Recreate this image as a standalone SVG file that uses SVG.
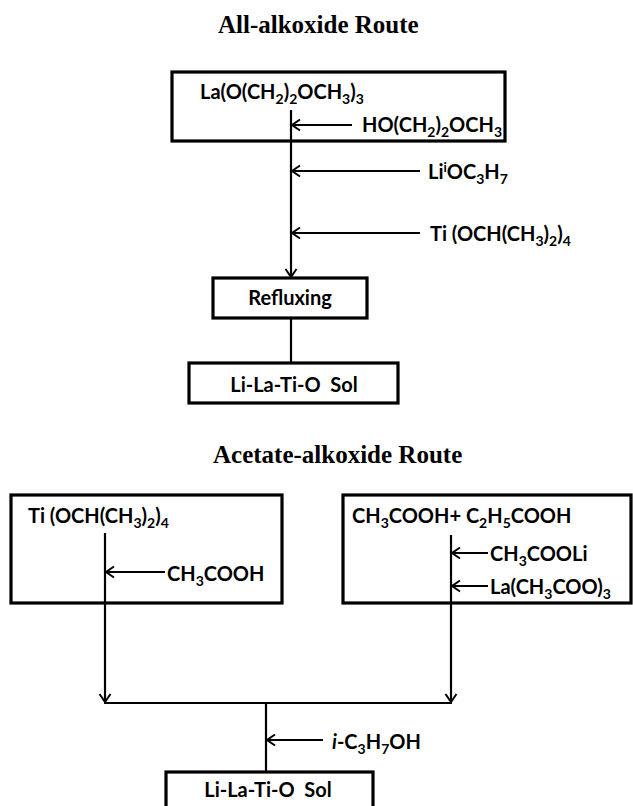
<svg xmlns="http://www.w3.org/2000/svg" width="633" height="806" viewBox="0 0 633 806">
<defs>
<style>
.title{font-family:"Liberation Serif","Times New Roman",serif;font-weight:bold;font-size:25px;fill:#000}
.lbl{font-family:Lato,"Open Sans","Liberation Sans",sans-serif;font-weight:bold;font-size:20px;fill:#000}
.box{fill:#fff;stroke:#000;stroke-width:3.2}
.ln{stroke:#000;stroke-width:2.2;fill:none}
.arr{stroke:#000;stroke-width:1.8;fill:none;marker-end:url(#ah)}
.varr{stroke:#000;stroke-width:2.2;fill:none;marker-end:url(#ah)}
</style>
<marker id="ah" markerWidth="12" markerHeight="14" refX="10" refY="7" orient="auto" markerUnits="userSpaceOnUse">
<path d="M2,1.5 L10,7 L2,12.5" fill="none" stroke="#000" stroke-width="2"/>
</marker>
</defs>
<rect width="633" height="806" fill="#fff"/>

<text class="title" x="218" y="33">All-alkoxide Route</text>
<text class="title" x="213" y="463">Acetate-alkoxide Route</text>

<g id="n_la_box">
<rect class="box" x="172" y="72" width="333" height="69"/>
<text class="lbl" x="200" y="99">La(O(CH<tspan dy="5" font-size="14">2</tspan><tspan dy="-5">)</tspan><tspan dy="5" font-size="14">2</tspan><tspan dy="-5">OCH</tspan><tspan dy="5" font-size="14">3</tspan><tspan dy="-5">)</tspan><tspan dy="5" font-size="14">3</tspan></text>
</g>

<g id="n_refluxing">
<rect class="box" x="213" y="278" width="154" height="40"/>
<text class="lbl" x="290" y="305" text-anchor="middle">Refluxing</text>
</g>

<g id="n_sol1">
<rect class="box" x="189" y="363" width="209" height="40"/>
<text class="lbl" x="294" y="392" text-anchor="middle" xml:space="preserve">Li-La-Ti-O  Sol</text>
</g>

<g id="n_ti_box">
<rect class="box" x="11" y="495" width="271" height="108"/>
<text class="lbl" x="28" y="523">Ti (OCH(CH<tspan dy="5" font-size="14">3</tspan><tspan dy="-5">)</tspan><tspan dy="5" font-size="14">2</tspan><tspan dy="-5">)</tspan><tspan dy="5" font-size="14">4</tspan></text>
</g>

<g id="n_acid_box">
<rect class="box" x="343" y="495" width="288" height="108"/>
<text class="lbl" x="352" y="523">CH<tspan dy="5" font-size="14">3</tspan><tspan dy="-5">COOH+ C</tspan><tspan dy="5" font-size="14">2</tspan><tspan dy="-5">H</tspan><tspan dy="5" font-size="14">5</tspan><tspan dy="-5">COOH</tspan></text>
</g>

<g id="n_sol2">
<rect class="box" x="166" y="772" width="207" height="40"/>
<text class="lbl" x="268" y="797" text-anchor="middle" xml:space="preserve">Li-La-Ti-O  Sol</text>
</g>

<g id="connectors">
<line class="varr" x1="291" y1="110" x2="291" y2="277"/>
<line class="ln" x1="291" y1="318" x2="291" y2="363"/>
<line class="arr" x1="352" y1="125" x2="292" y2="125"/>
<line class="arr" x1="420" y1="171" x2="292" y2="171"/>
<line class="arr" x1="420" y1="233" x2="292" y2="233"/>

<line class="varr" x1="105" y1="533" x2="105" y2="702"/>
<line class="varr" x1="451" y1="535" x2="451" y2="702"/>
<line class="ln" x1="104" y1="703" x2="452" y2="703"/>
<line class="ln" x1="266" y1="703" x2="266" y2="772"/>
<line class="arr" x1="165" y1="572" x2="106" y2="572"/>
<line class="arr" x1="488" y1="553" x2="452" y2="553"/>
<line class="arr" x1="488" y1="586" x2="452" y2="586"/>
<line class="arr" x1="323" y1="740" x2="267" y2="740"/>
</g>

<g id="labels">
<text class="lbl" x="362" y="132">HO(CH<tspan dy="5" font-size="14">2</tspan><tspan dy="-5">)</tspan><tspan dy="5" font-size="14">2</tspan><tspan dy="-5">OCH</tspan><tspan dy="5" font-size="14">3</tspan></text>
<text class="lbl" x="428" y="179">Li<tspan dy="-7" font-size="13">i</tspan><tspan dy="7">OC</tspan><tspan dy="5" font-size="14">3</tspan><tspan dy="-5">H</tspan><tspan dy="5" font-size="14">7</tspan></text>
<text class="lbl" x="430" y="241">Ti (OCH(CH<tspan dy="5" font-size="14">3</tspan><tspan dy="-5">)</tspan><tspan dy="5" font-size="14">2</tspan><tspan dy="-5">)</tspan><tspan dy="5" font-size="14">4</tspan></text>
<text class="lbl" x="167" y="581">CH<tspan dy="5" font-size="14">3</tspan><tspan dy="-5">COOH</tspan></text>
<text class="lbl" x="490" y="561">CH<tspan dy="5" font-size="14">3</tspan><tspan dy="-5">COOLi</tspan></text>
<text class="lbl" x="490" y="594">La(CH<tspan dy="5" font-size="14">3</tspan><tspan dy="-5">COO)</tspan><tspan dy="5" font-size="14">3</tspan></text>
<text class="lbl" x="332" y="749"><tspan font-style="italic">i</tspan>-C<tspan dy="5" font-size="14">3</tspan><tspan dy="-5">H</tspan><tspan dy="5" font-size="14">7</tspan><tspan dy="-5">OH</tspan></text>
</g>
</svg>
